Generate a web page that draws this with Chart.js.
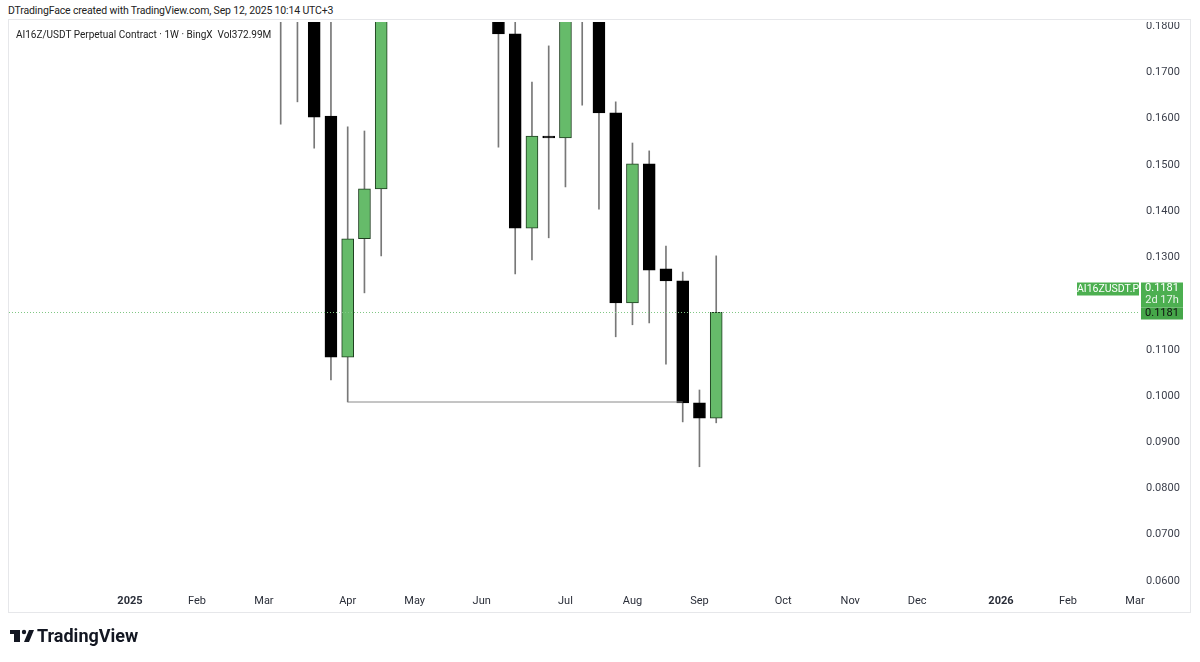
<!DOCTYPE html>
<html>
<head>
<meta charset="utf-8">
<script src="https://cdn.jsdelivr.net/npm/chart.js@4.4.1/dist/chart.umd.min.js"></script>
<style>
  body { margin: 0; background: #fff; width: 1200px; height: 662px; overflow: hidden; font-family: Roboto, "Liberation Sans", sans-serif; }
  #head { position: absolute; left: 8px; top: 4px; font-size: 10.5px; color: #222; letter-spacing: -0.15px; }
  #frame { position: absolute; left: 8px; top: 19px; width: 1183px; height: 594px; box-sizing: border-box; border: 1px solid #e6e7ea; }
  #wrap { position: absolute; left: 9px; top: 22px; width: 1181px; height: 590px; }
  #legend { position: absolute; left: 16px; top: 29px; font-size: 10px; color: #222; }
  #logo { position: absolute; left: 10px; top: 626px; }
</style>
</head>
<body>
<div id="head">DTradingFace created with TradingView.com, Sep 12, 2025 10:14 UTC+3</div>
<div id="frame"></div>
<div id="wrap"><canvas id="myChart" width="1181" height="590"></canvas></div>
<div id="legend">AI16Z/USDT Perpetual Contract · 1W · BingX&nbsp;&nbsp;Vol372.99M</div>
<canvas id="logo" width="150" height="24"></canvas>
<script>
// weekly candles (Monday open dates), AI16Z/USDT perp on BingX
var weeks = ['2025-03-10', '2025-03-17', '2025-03-24', '2025-03-31', '2025-04-07', '2025-04-14', '2025-04-21', '2025-04-28',
  '2025-05-05', '2025-05-12', '2025-05-19', '2025-05-26', '2025-06-02', '2025-06-09', '2025-06-16', '2025-06-23',
  '2025-06-30', '2025-07-07', '2025-07-14', '2025-07-21', '2025-07-28', '2025-08-04', '2025-08-11', '2025-08-18',
  '2025-08-25', '2025-09-01', '2025-09-08'];
var open  = [0.205, 0.195, 0.200, 0.1605, 0.1084, 0.1340, 0.1448, 0.196, 0.228, 0.236, 0.262, 0.232, 0.205, 0.1865,
  0.1783, 0.1363, 0.1562, 0.1558, 0.192, 0.205, 0.1612, 0.1201, 0.1502, 0.1275, 0.1249, 0.0985, 0.0952];
var high  = [0.225, 0.215, 0.235, 0.185, 0.1582, 0.1573, 0.205, 0.245, 0.265, 0.285, 0.275, 0.245, 0.222, 0.199,
  0.1845, 0.1679, 0.1757, 0.205, 0.228, 0.222, 0.1636, 0.1547, 0.1530, 0.1324, 0.1268, 0.1013, 0.1303];
var low   = [0.1588, 0.1636, 0.1536, 0.1035, 0.0987, 0.1223, 0.1303, 0.186, 0.205, 0.222, 0.218, 0.196, 0.184, 0.1538,
  0.1264, 0.1294, 0.1342, 0.1452, 0.1629, 0.1404, 0.1128, 0.1154, 0.1158, 0.1069, 0.0944, 0.0847, 0.0942];
var close = [0.195, 0.200, 0.1603, 0.1084, 0.1340, 0.1448, 0.196, 0.228, 0.236, 0.262, 0.232, 0.205, 0.1865, 0.1783,
  0.1363, 0.1562, 0.1558, 0.192, 0.205, 0.1612, 0.1201, 0.1502, 0.1272, 0.1249, 0.0985, 0.0952, 0.1181];

// drawn support line (from Apr 7 low to Aug 25)
var supportFrom = '2025-04-07', supportTo = '2025-08-25', supportPrice = 0.0987;

// time axis labels
var monthDates  = ['2025-01-06', '2025-02-03', '2025-03-03', '2025-04-07', '2025-05-05', '2025-06-02', '2025-07-07',
  '2025-08-04', '2025-09-01', '2025-10-06', '2025-11-03', '2025-12-01', '2026-01-05', '2026-02-02', '2026-03-02'];
var monthLabels = ['2025', 'Feb', 'Mar', 'Apr', 'May', 'Jun', 'Jul', 'Aug', 'Sep', 'Oct', 'Nov', 'Dec', '2026', 'Feb', 'Mar'];
var priceTicks  = [0.06, 0.07, 0.08, 0.09, 0.10, 0.11, 0.12, 0.13, 0.14, 0.15, 0.16, 0.17, 0.18];

var symbolName = 'AI16ZUSDT.P', countdown = '2d 17h';

// week number counted from the first week of 2025
function wk(d) { return (Date.parse(d) - Date.parse('2025-01-06')) / 604800000; }

var body = [], wick = [];
for (var i = 0; i < weeks.length; i++) {
  body.push({ x: wk(weeks[i]), y: [open[i], close[i]] });
  wick.push({ x: wk(weeks[i]), y: [low[i], high[i]] });
}
var upCol = '#66bb6a';
function isUp(c) { var i = c.dataIndex; return close[i] >= open[i]; }

// current price line + labels on the price scale
var lastPricePlugin = {
  id: 'lastPrice',
  afterDraw: function (chart) {
    var c = chart.ctx, a = chart.chartArea, ys = chart.scales.y;
    var last = close[close.length - 1];
    var py = Math.round(ys.getPixelForValue(last)) + 0.5;
    c.save();
    c.strokeStyle = '#80c784';
    c.lineWidth = 1;
    c.setLineDash([1, 2]);
    c.beginPath(); c.moveTo(a.left, py); c.lineTo(a.right, py); c.stroke();
    c.setLineDash([]);
    var bx = a.right + 1, bw = 42;
    c.fillStyle = '#4caf50';
    c.fillRect(bx, py - 30, bw, 25);
    c.fillRect(bx - 64, py - 30, 62, 13);
    c.fillStyle = '#45a649';
    c.fillRect(bx, py - 5, bw, 12);
    c.font = '10.5px Roboto, sans-serif';
    c.textBaseline = 'middle';
    c.textAlign = 'center';
    c.fillStyle = '#fff';
    c.fillText(symbolName, bx - 33, py - 23);
    c.font = '11px Roboto, sans-serif';
    c.fillText(last.toFixed(4), bx + bw / 2, py - 24);
    c.fillStyle = '#e8f5e9';
    c.fillText(countdown, bx + bw / 2, py - 12);
    c.fillStyle = '#111';
    c.fillText(last.toFixed(4), bx + bw / 2, py + 1);
    c.restore();
  }
};

var ctx = document.getElementById('myChart');
var myChart = new Chart(ctx, {
  type: 'bar',
  data: {
    datasets: [
      {
        type: 'line',
        data: [{ x: wk(supportFrom), y: supportPrice }, { x: wk(supportTo), y: supportPrice }],
        borderColor: '#8a8a8a', borderWidth: 1, pointRadius: 0, order: 0
      },
      {
        data: body, grouped: false, barThickness: 12, order: 1,
        backgroundColor: function (c) { return isUp(c) ? upCol : '#000'; },
        borderColor: function (c) { return isUp(c) ? '#1e3d1f' : '#000'; },
        borderWidth: 1, borderSkipped: false
      },
      {
        data: wick, grouped: false, barThickness: 1, order: 2,
        backgroundColor: '#787878', borderWidth: 0
      }
    ]
  },
  options: {
    responsive: false, animation: false,
    layout: { padding: 0 },
    plugins: { legend: { display: false }, tooltip: { enabled: false } },
    scales: {
      x: {
        type: 'linear', min: -7.22, max: 60.3, offset: false,
        grid: { display: false, drawTicks: false },
        border: { display: false },
        afterBuildTicks: function (s) { s.ticks = monthDates.map(function (d) { return { value: wk(d) }; }); },
        afterFit: function (s) { s.height = 22; s.paddingLeft = 0; s.paddingRight = 0; },
        ticks: {
          autoSkip: false, maxRotation: 0, padding: 5, color: '#2a2e39',
          font: function (c) {
            var k = c.index;
            var yr = k !== undefined && /^\d{4}$/.test(monthLabels[k]);
            return { size: 11, family: 'Roboto, sans-serif', weight: yr ? 'bold' : 'normal' };
          },
          callback: function (v, idx) { return monthLabels[idx]; }
        }
      },
      y: {
        position: 'right', min: 0.058054, max: 0.180865,
        grid: { display: false, drawTicks: false },
        border: { display: false },
        afterBuildTicks: function (s) { s.ticks = priceTicks.map(function (v) { return { value: v }; }); },
        afterFit: function (s) { s.width = 50; s.paddingTop = 0; s.paddingBottom = 0; },
        ticks: {
          padding: 6, color: '#3a3e4a', font: { size: 11, family: 'Roboto, sans-serif' },
          callback: function (v) { return Number(v).toFixed(4); }
        }
      }
    }
  },
  plugins: [lastPricePlugin]
});

// TradingView wordmark
var lg = document.getElementById('logo').getContext('2d');
lg.fillStyle = '#131722';
lg.fillRect(0, 4, 10, 4);
lg.fillRect(4, 4, 6, 12);
lg.beginPath(); lg.arc(14, 6, 2.2, 0, Math.PI * 2); lg.fill();
lg.beginPath(); lg.moveTo(19, 4); lg.lineTo(24, 4); lg.lineTo(19, 16); lg.lineTo(14, 16); lg.closePath(); lg.fill();
lg.font = 'bold 18px Roboto, sans-serif';
lg.textBaseline = 'middle';
lg.fillText('TradingView', 27, 11);
</script>
</body>
</html>
